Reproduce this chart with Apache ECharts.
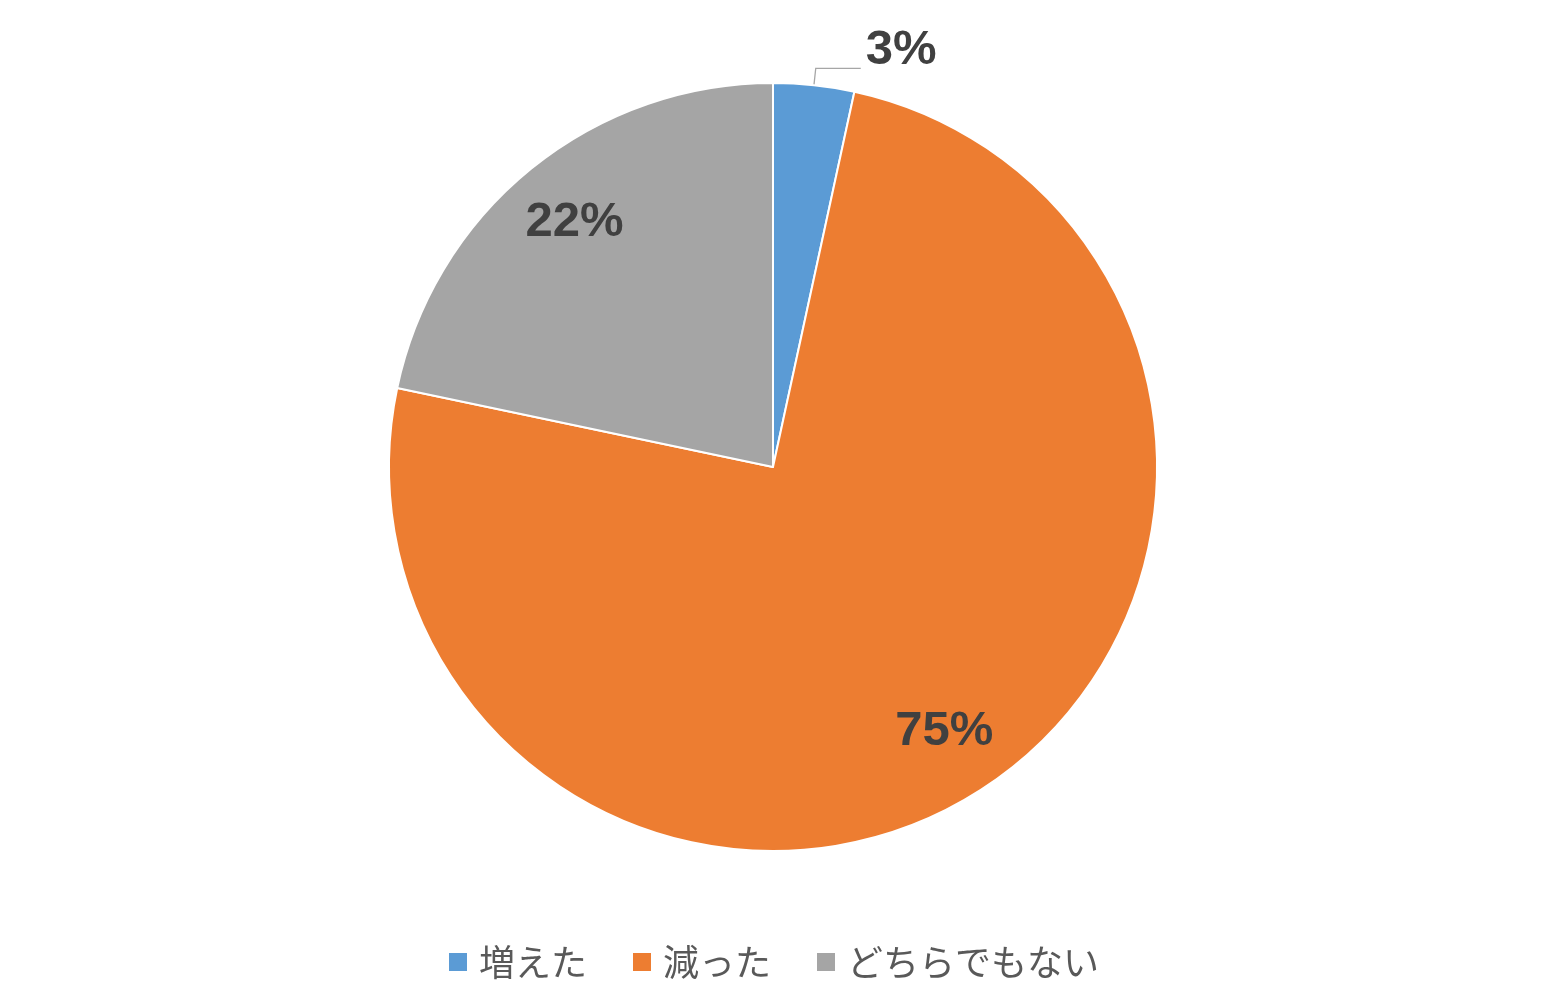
<!DOCTYPE html>
<html>
<head>
<meta charset="utf-8">
<script src="https://cdn.jsdelivr.net/npm/echarts@6/dist/echarts.min.js"></script>
<style>
html,body{margin:0;padding:0;background:#fff;}
#c{width:1546px;height:1007px;}
</style>
</head>
<body>
<div id="c"></div>
<script>
const categories = ['増えた', '減った', 'どちらでもない'];
const values = [3.4, 74.9, 21.7];
const colors = ['#5B9BD5', '#ED7D31', '#A5A5A5'];

const chart = echarts.init(document.getElementById('c'));
const labelFont = {
  fontFamily: '"Liberation Sans", Arial, sans-serif',
  fontWeight: 'bold',
  fontSize: 49,
  color: '#404040'
};

const mainData = categories.map((n, i) => ({
  name: n,
  value: values[i],
  itemStyle: { color: colors[i] },
  label: { show: values[i] < 5 },
  labelLine: { show: values[i] < 5 }
}));
const overlayData = categories.map((n, i) => ({
  name: n,
  value: values[i],
  label: { show: values[i] >= 5 }
}));

chart.setOption({
  animation: false,
  legend: {
    data: categories,
    bottom: 22,
    left: 'center',
    itemWidth: 20,
    itemHeight: 20,
    itemGap: 44,
    icon: 'rect',
    textStyle: {
      fontFamily: '"Noto Sans CJK JP", sans-serif',
      fontSize: 36,
      color: '#595959',
      padding: [0, 0, 0, 6]
    }
  },
  series: [
    {
      type: 'pie',
      center: [773, 467],
      radius: 384,
      startAngle: 90,
      clockwise: true,
      avoidLabelOverlap: false,
      itemStyle: { borderColor: '#fff', borderWidth: 2 },
      label: {
        position: 'outside',
        distanceToLabelLine: 5,
        formatter: p => '{t|' + Math.round(p.value) + '%}\n{s|}',
        rich: {
          t: Object.assign({ lineHeight: 50 }, labelFont),
          s: { height: 36, lineHeight: 36 }
        }
      },
      labelLine: {
        length: 17,
        length2: 45,
        lineStyle: { color: '#A6A6A6', width: 1.3 }
      },
      emphasis: { disabled: true },
      data: mainData
    },
    {
      type: 'pie',
      center: [773, 467],
      radius: [240, 384],
      startAngle: 90,
      clockwise: true,
      silent: true,
      avoidLabelOverlap: false,
      itemStyle: { color: 'rgba(0,0,0,0)' },
      label: Object.assign({ position: 'inside', formatter: p => Math.round(p.value) + '%' }, labelFont),
      labelLine: { show: false },
      emphasis: { disabled: true },
      data: overlayData
    }
  ]
});
</script>
</body>
</html>
